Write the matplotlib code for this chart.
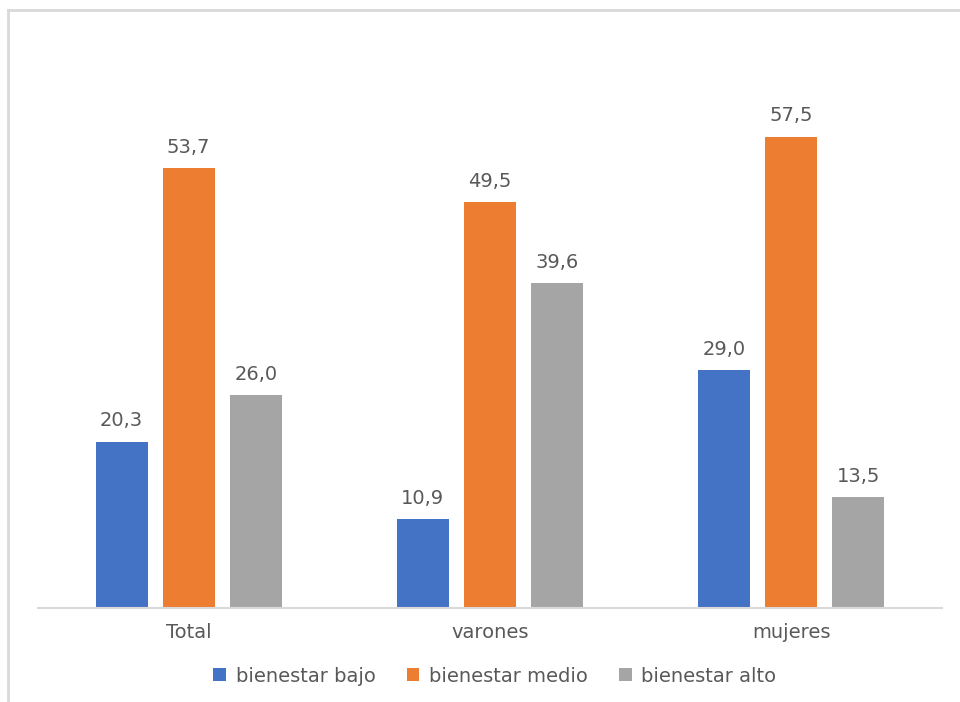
import numpy as np
import matplotlib.pyplot as plt
from matplotlib.lines import Line2D

categories = ["Total", "varones", "mujeres"]
series_names = ["bienestar bajo", "bienestar medio", "bienestar alto"]
bajo = [20.3, 10.9, 29.0]
medio = [53.7, 49.5, 57.5]
alto = [26.0, 39.6, 13.5]
colors = ["#4472C4", "#ED7D31", "#A5A5A5"]

text_color = "#595959"
plt.rcParams["font.family"] = "DejaVu Sans"

W, H = 960, 702
fig = plt.figure(figsize=(W / 100, H / 100), dpi=100)

# light frame around the chart area (right/bottom edges run off the canvas)
fig.add_artist(Line2D([8 / W, 8 / W], [0, 1 - 10 / H], color="#D9D9D9", lw=2))
fig.add_artist(Line2D([8 / W, 1], [1 - 10 / H, 1 - 10 / H], color="#D9D9D9", lw=2))

ax = fig.add_axes([38 / W, 1 - 608 / H, (942 - 38) / W, (608 - 34) / H])

x = np.arange(len(categories))
width = 0.173
step = 0.2226
for i, (vals, name, c) in enumerate(zip([bajo, medio, alto], series_names, colors)):
    pos = x + (i - 1) * step
    bars = ax.bar(pos, vals, width, color=c, label=name, zorder=2)
    for b, v in zip(bars, vals):
        ax.annotate(f"{v:.1f}".replace(".", ","),
                    (b.get_x() + b.get_width() / 2, v),
                    xytext=(0, 8), textcoords="offset points",
                    ha="center", va="bottom", fontsize=14, color=text_color)

ax.set_xlim(-0.5, 2.5)
ax.set_ylim(0, 70)
ax.set_yticks([])
ax.set_xticks(x)
ax.set_xticklabels(categories, fontsize=14, color=text_color)
ax.tick_params(axis="x", length=0, pad=11)
for s in ["top", "right", "left"]:
    ax.spines[s].set_visible(False)
ax.spines["bottom"].set_color("#D9D9D9")
ax.spines["bottom"].set_linewidth(1.5)

leg = fig.legend(loc="center", bbox_to_anchor=(495 / W, 1 - 676 / H), ncol=3,
                 frameon=False, fontsize=14, handlelength=0.65, handleheight=0.65,
                 handletextpad=0.5, columnspacing=1.6)
for t in leg.get_texts():
    t.set_color(text_color)

fig.savefig("out.png", dpi=100)
